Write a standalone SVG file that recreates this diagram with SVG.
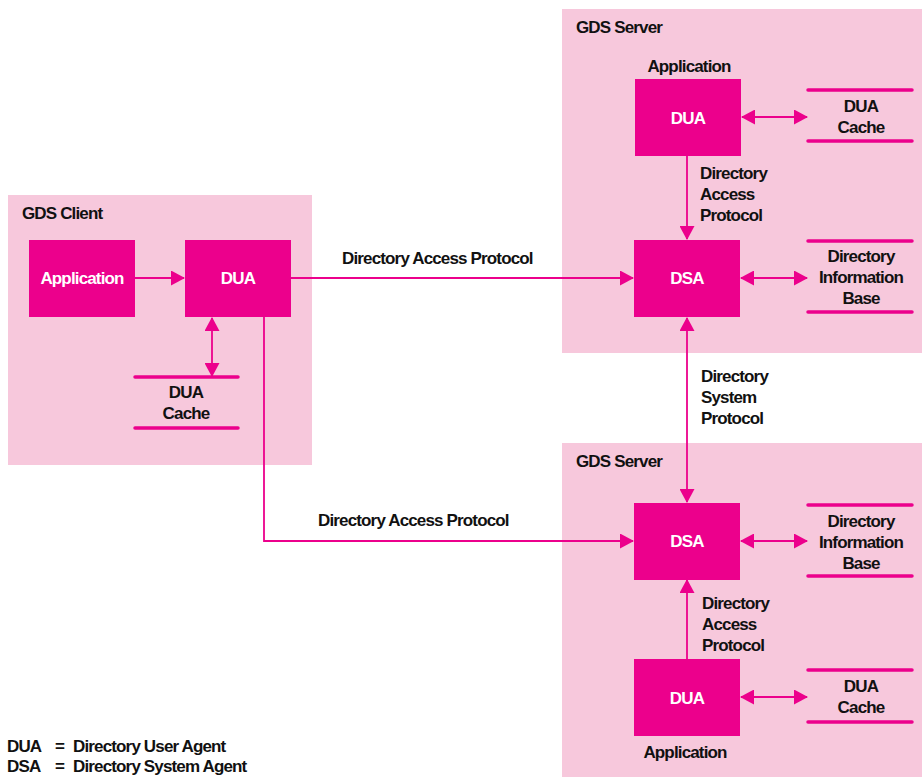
<svg xmlns="http://www.w3.org/2000/svg" width="922" height="777" viewBox="0 0 922 777">
<style>
.panel{fill:#F7C8DC}
.box{fill:#EC008C}
.t{font-family:"Liberation Sans",Arial,sans-serif;font-weight:bold;font-size:17px;letter-spacing:-0.85px;fill:#111}
.w{fill:#fff;text-anchor:middle}
.c{text-anchor:middle}
.ln{stroke:#EC008C;stroke-width:1.8;fill:none}
.bar{stroke:#EC008C;stroke-width:3.5;stroke-linecap:round}
</style>
<defs>
<marker id="ah" markerUnits="userSpaceOnUse" markerWidth="14" markerHeight="15" refX="13" refY="7.5" orient="auto-start-reverse" viewBox="0 0 14 15">
<path d="M0,0 L14,7.5 L0,15 Z" fill="#EC008C"/>
</marker>
</defs>
<rect width="922" height="777" fill="#fff"/>
<g id="client">
<rect class="panel" x="8" y="195" width="304" height="270"/>
<text class="t" x="22" y="219">GDS Client</text>
</g>
<g id="server1">
<rect class="panel" x="562" y="9" width="360" height="344"/>
<text class="t" x="576" y="33">GDS Server</text>
</g>
<g id="server2">
<rect class="panel" x="562" y="443" width="360" height="334"/>
<text class="t" x="576" y="467">GDS Server</text>
</g>
<g id="connectors">
<line class="ln" x1="135" y1="278" x2="184" y2="278" marker-end="url(#ah)"/>
<line class="ln" x1="212" y1="318" x2="212" y2="376" marker-start="url(#ah)" marker-end="url(#ah)"/>
<line class="ln" x1="291" y1="278" x2="633" y2="278" marker-end="url(#ah)"/>
<polyline class="ln" points="264,317 264,541 633,541" marker-end="url(#ah)"/>
<line class="ln" x1="687" y1="156" x2="687" y2="239" marker-end="url(#ah)"/>
<line class="ln" x1="742" y1="117" x2="807" y2="117" marker-start="url(#ah)" marker-end="url(#ah)"/>
<line class="ln" x1="741" y1="278" x2="807" y2="278" marker-start="url(#ah)" marker-end="url(#ah)"/>
<line class="ln" x1="687" y1="318" x2="687" y2="502" marker-start="url(#ah)" marker-end="url(#ah)"/>
<line class="ln" x1="741" y1="541" x2="807" y2="541" marker-start="url(#ah)" marker-end="url(#ah)"/>
<line class="ln" x1="687" y1="659" x2="687" y2="580" marker-end="url(#ah)"/>
<line class="ln" x1="741" y1="697" x2="807" y2="697" marker-start="url(#ah)" marker-end="url(#ah)"/>
<text class="t" x="342" y="264">Directory Access Protocol</text>
<text class="t" x="318" y="526">Directory Access Protocol</text>
<text class="t" x="700" y="179">Directory</text>
<text class="t" x="700" y="200">Access</text>
<text class="t" x="700" y="221">Protocol</text>
<text class="t" x="701" y="382">Directory</text>
<text class="t" x="701" y="403">System</text>
<text class="t" x="701" y="424">Protocol</text>
<text class="t" x="702" y="609">Directory</text>
<text class="t" x="702" y="630">Access</text>
<text class="t" x="702" y="651">Protocol</text>
</g>
<g id="client-app">
<rect class="box" x="29" y="240" width="106" height="77"/>
<text class="t w" x="82" y="284">Application</text>
</g>
<g id="client-dua">
<rect class="box" x="185" y="240" width="106" height="77"/>
<text class="t w" x="238" y="284">DUA</text>
</g>
<g id="client-cache">
<line class="bar" x1="135" y1="377" x2="238" y2="377"/>
<line class="bar" x1="135" y1="428" x2="238" y2="428"/>
<text class="t c" x="186" y="398">DUA</text>
<text class="t c" x="186" y="419">Cache</text>
</g>
<g id="s1-dua">
<text class="t c" x="689" y="72">Application</text>
<rect class="box" x="635" y="79" width="106" height="77"/>
<text class="t w" x="688" y="124">DUA</text>
</g>
<g id="s1-cache">
<line class="bar" x1="808" y1="90" x2="912" y2="90"/>
<line class="bar" x1="808" y1="141" x2="912" y2="141"/>
<text class="t c" x="861" y="112">DUA</text>
<text class="t c" x="861" y="133">Cache</text>
</g>
<g id="s1-dsa">
<rect class="box" x="634" y="240" width="106" height="77"/>
<text class="t w" x="687" y="284">DSA</text>
</g>
<g id="s1-dib">
<line class="bar" x1="808" y1="241" x2="912" y2="241"/>
<line class="bar" x1="808" y1="312" x2="912" y2="312"/>
<text class="t c" x="861" y="262">Directory</text>
<text class="t c" x="861" y="283">Information</text>
<text class="t c" x="861" y="304">Base</text>
</g>
<g id="s2-dsa">
<rect class="box" x="634" y="503" width="106" height="77"/>
<text class="t w" x="687" y="547">DSA</text>
</g>
<g id="s2-dib">
<line class="bar" x1="808" y1="505" x2="912" y2="505"/>
<line class="bar" x1="808" y1="576" x2="912" y2="576"/>
<text class="t c" x="861" y="527">Directory</text>
<text class="t c" x="861" y="548">Information</text>
<text class="t c" x="861" y="569">Base</text>
</g>
<g id="s2-dua">
<rect class="box" x="634" y="659" width="106" height="77"/>
<text class="t w" x="687" y="704">DUA</text>
<text class="t c" x="685" y="758">Application</text>
</g>
<g id="s2-cache">
<line class="bar" x1="808" y1="670" x2="912" y2="670"/>
<line class="bar" x1="808" y1="722" x2="912" y2="722"/>
<text class="t c" x="861" y="692">DUA</text>
<text class="t c" x="861" y="713">Cache</text>
</g>
<g id="legend">
<text class="t" x="7" y="752">DUA</text>
<text class="t" x="55" y="752">=</text>
<text class="t" x="73" y="752">Directory User Agent</text>
<text class="t" x="7" y="772">DSA</text>
<text class="t" x="55" y="772">=</text>
<text class="t" x="73" y="772">Directory System Agent</text>
</g>
</svg>
